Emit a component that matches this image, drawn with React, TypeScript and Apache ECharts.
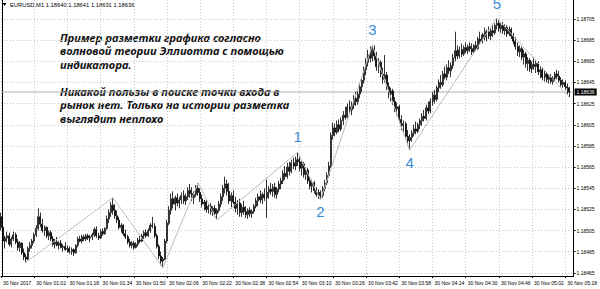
import React, { useEffect, useRef } from "react";
import * as echarts from "echarts";

// EURUSD M1, 30 Nov 2017, one candle per minute starting 00:46
const symbolName = "EURUSD,M1";
const timeLabels = [
  "30 Nov 2017", "30 Nov 01:02", "30 Nov 01:18", "30 Nov 01:34", "30 Nov 01:50", "30 Nov 02:06",
  "30 Nov 02:22", "30 Nov 02:38", "30 Nov 02:54", "30 Nov 03:10", "30 Nov 03:26", "30 Nov 03:42",
  "30 Nov 03:58", "30 Nov 04:14", "30 Nov 04:30", "30 Nov 04:46", "30 Nov 05:02", "30 Nov 05:18",
];
const priceTicks = [
  1.18465, 1.18485, 1.18505, 1.18525, 1.18545, 1.18565, 1.18585,
  1.18605, 1.18625, 1.18645, 1.18665, 1.18685, 1.18705,
];

const opens = [
  1.18518,1.18508,1.18495,1.18498,1.18500,1.18492,1.18497,1.18501,1.18494,1.18489,
  1.18493,1.18484,1.18480,1.18478,1.18488,1.18491,1.18495,1.18501,1.18507,1.18518,
  1.18511,1.18505,1.18508,1.18500,1.18503,1.18497,1.18492,1.18494,1.18491,1.18493,
  1.18489,1.18490,1.18487,1.18488,1.18485,1.18487,1.18484,1.18491,1.18497,1.18495,
  1.18499,1.18497,1.18500,1.18498,1.18499,1.18501,1.18506,1.18500,1.18498,1.18504,
  1.18502,1.18507,1.18516,1.18522,1.18529,1.18524,1.18519,1.18515,1.18508,1.18510,
  1.18502,1.18499,1.18494,1.18491,1.18493,1.18489,1.18492,1.18496,1.18495,1.18500,
  1.18503,1.18500,1.18505,1.18510,1.18509,1.18500,1.18490,1.18481,1.18476,1.18478,
  1.18495,1.18512,1.18524,1.18535,1.18530,1.18536,1.18531,1.18534,1.18538,1.18533,
  1.18537,1.18543,1.18540,1.18536,1.18539,1.18545,1.18541,1.18535,1.18530,1.18532,
  1.18525,1.18528,1.18523,1.18526,1.18521,1.18524,1.18530,1.18537,1.18545,1.18549,
  1.18542,1.18533,1.18538,1.18532,1.18526,1.18531,1.18522,1.18527,1.18523,1.18520,
  1.18524,1.18521,1.18523,1.18528,1.18533,1.18537,1.18534,1.18539,1.18536,1.18541,
  1.18544,1.18542,1.18546,1.18539,1.18544,1.18549,1.18552,1.18559,1.18556,1.18565,
  1.18561,1.18569,1.18566,1.18572,1.18570,1.18564,1.18568,1.18558,1.18562,1.18552,
  1.18547,1.18550,1.18543,1.18539,1.18541,1.18538,1.18545,1.18550,1.18557,1.18566,
  1.18595,1.18602,1.18598,1.18605,1.18601,1.18609,1.18614,1.18612,1.18622,1.18619,
  1.18624,1.18630,1.18627,1.18634,1.18641,1.18647,1.18657,1.18664,1.18671,1.18668,
  1.18676,1.18670,1.18660,1.18664,1.18653,1.18648,1.18652,1.18641,1.18634,1.18637,
  1.18627,1.18620,1.18622,1.18610,1.18604,1.18606,1.18594,1.18590,1.18593,1.18597,
  1.18601,1.18599,1.18605,1.18609,1.18613,1.18611,1.18621,1.18618,1.18627,1.18633,
  1.18629,1.18640,1.18645,1.18643,1.18653,1.18650,1.18659,1.18656,1.18661,1.18668,
  1.18675,1.18670,1.18676,1.18672,1.18678,1.18675,1.18679,1.18677,1.18674,1.18680,
  1.18677,1.18686,1.18684,1.18690,1.18688,1.18693,1.18689,1.18694,1.18692,1.18699,
  1.18701,1.18696,1.18699,1.18694,1.18697,1.18691,1.18695,1.18689,1.18684,1.18679,
  1.18674,1.18677,1.18669,1.18672,1.18663,1.18666,1.18658,1.18662,1.18660,1.18663,
  1.18655,1.18657,1.18650,1.18653,1.18648,1.18650,1.18646,1.18649,1.18653,1.18651,
  1.18647,1.18643,1.18645,1.18641,1.18640,
];

const highs = [
  1.18522,1.18510,1.18500,1.18504,1.18503,1.18499,1.18504,1.18503,1.18497,1.18495,
  1.18494,1.18488,1.18483,1.18490,1.18494,1.18497,1.18503,1.18510,1.18526,1.18522,
  1.18516,1.18510,1.18509,1.18505,1.18505,1.18500,1.18497,1.18499,1.18495,1.18496,
  1.18492,1.18494,1.18491,1.18490,1.18489,1.18488,1.18492,1.18499,1.18500,1.18501,
  1.18501,1.18502,1.18502,1.18501,1.18503,1.18508,1.18509,1.18503,1.18506,1.18507,
  1.18508,1.18519,1.18525,1.18532,1.18536,1.18530,1.18524,1.18518,1.18512,1.18511,
  1.18506,1.18501,1.18497,1.18495,1.18495,1.18494,1.18498,1.18500,1.18502,1.18505,
  1.18506,1.18507,1.18512,1.18518,1.18512,1.18502,1.18492,1.18485,1.18480,1.18497,
  1.18515,1.18528,1.18540,1.18542,1.18538,1.18540,1.18537,1.18541,1.18543,1.18540,
  1.18546,1.18549,1.18546,1.18542,1.18548,1.18550,1.18545,1.18539,1.18534,1.18534,
  1.18530,1.18531,1.18528,1.18529,1.18526,1.18533,1.18540,1.18548,1.18556,1.18553,
  1.18550,1.18541,1.18543,1.18537,1.18534,1.18535,1.18530,1.18533,1.18528,1.18526,
  1.18527,1.18525,1.18530,1.18536,1.18540,1.18543,1.18541,1.18545,1.18553,1.18547,
  1.18550,1.18549,1.18550,1.18546,1.18552,1.18555,1.18562,1.18566,1.18569,1.18570,
  1.18572,1.18574,1.18575,1.18579,1.18576,1.18571,1.18570,1.18565,1.18564,1.18556,
  1.18553,1.18552,1.18546,1.18544,1.18543,1.18547,1.18553,1.18560,1.18570,1.18598,
  1.18607,1.18606,1.18609,1.18610,1.18612,1.18618,1.18622,1.18625,1.18628,1.18627,
  1.18633,1.18636,1.18637,1.18644,1.18650,1.18660,1.18668,1.18676,1.18679,1.18680,
  1.18680,1.18674,1.18668,1.18666,1.18659,1.18671,1.18655,1.18645,1.18640,1.18639,
  1.18631,1.18626,1.18624,1.18614,1.18609,1.18608,1.18600,1.18596,1.18600,1.18605,
  1.18608,1.18607,1.18611,1.18616,1.18619,1.18624,1.18627,1.18630,1.18636,1.18638,
  1.18642,1.18648,1.18652,1.18656,1.18660,1.18662,1.18666,1.18664,1.18672,1.18693,
  1.18680,1.18679,1.18682,1.18680,1.18683,1.18681,1.18683,1.18682,1.18681,1.18684,
  1.18688,1.18693,1.18692,1.18697,1.18695,1.18698,1.18696,1.18699,1.18701,1.18706,
  1.18704,1.18701,1.18702,1.18700,1.18699,1.18698,1.18697,1.18692,1.18688,1.18683,
  1.18680,1.18679,1.18676,1.18674,1.18669,1.18668,1.18665,1.18669,1.18666,1.18665,
  1.18660,1.18659,1.18656,1.18655,1.18652,1.18653,1.18651,1.18655,1.18657,1.18656,
  1.18650,1.18648,1.18647,1.18644,1.18641,
];

const lows = [
  1.18505,1.18493,1.18488,1.18494,1.18490,1.18489,1.18495,1.18492,1.18486,1.18485,
  1.18482,1.18477,1.18475,1.18477,1.18485,1.18488,1.18493,1.18499,1.18505,1.18508,
  1.18503,1.18500,1.18498,1.18496,1.18495,1.18490,1.18488,1.18490,1.18487,1.18488,
  1.18485,1.18486,1.18484,1.18483,1.18482,1.18481,1.18483,1.18489,1.18494,1.18493,
  1.18495,1.18495,1.18496,1.18494,1.18496,1.18499,1.18498,1.18496,1.18497,1.18500,
  1.18501,1.18506,1.18512,1.18518,1.18520,1.18516,1.18512,1.18506,1.18503,1.18500,
  1.18497,1.18492,1.18489,1.18488,1.18487,1.18488,1.18490,1.18493,1.18494,1.18497,
  1.18498,1.18499,1.18503,1.18507,1.18498,1.18488,1.18478,1.18472,1.18470,1.18477,
  1.18493,1.18510,1.18520,1.18526,1.18524,1.18528,1.18526,1.18530,1.18530,1.18529,
  1.18534,1.18536,1.18533,1.18530,1.18537,1.18538,1.18532,1.18527,1.18524,1.18522,
  1.18521,1.18520,1.18519,1.18518,1.18515,1.18522,1.18527,1.18533,1.18540,1.18538,
  1.18530,1.18526,1.18530,1.18522,1.18520,1.18518,1.18518,1.18520,1.18517,1.18516,
  1.18518,1.18517,1.18521,1.18526,1.18528,1.18531,1.18530,1.18533,1.18517,1.18535,
  1.18539,1.18537,1.18536,1.18535,1.18541,1.18544,1.18549,1.18553,1.18554,1.18557,
  1.18559,1.18563,1.18562,1.18566,1.18561,1.18557,1.18555,1.18553,1.18549,1.18544,
  1.18541,1.18540,1.18537,1.18535,1.18534,1.18536,1.18542,1.18548,1.18555,1.18564,
  1.18591,1.18594,1.18596,1.18598,1.18599,1.18605,1.18610,1.18611,1.18615,1.18614,
  1.18620,1.18623,1.18624,1.18630,1.18636,1.18644,1.18652,1.18660,1.18664,1.18665,
  1.18666,1.18656,1.18654,1.18650,1.18644,1.18645,1.18638,1.18630,1.18627,1.18624,
  1.18617,1.18614,1.18607,1.18600,1.18597,1.18591,1.18586,1.18581,1.18589,1.18594,
  1.18596,1.18597,1.18601,1.18604,1.18608,1.18609,1.18615,1.18616,1.18623,1.18625,
  1.18627,1.18636,1.18639,1.18641,1.18648,1.18647,1.18653,1.18650,1.18658,1.18665,
  1.18667,1.18668,1.18669,1.18670,1.18673,1.18672,1.18674,1.18671,1.18672,1.18675,
  1.18676,1.18681,1.18682,1.18685,1.18684,1.18686,1.18685,1.18688,1.18690,1.18695,
  1.18693,1.18692,1.18691,1.18690,1.18688,1.18689,1.18686,1.18681,1.18676,1.18670,
  1.18669,1.18666,1.18662,1.18659,1.18656,1.18655,1.18654,1.18657,1.18654,1.18652,
  1.18649,1.18647,1.18646,1.18645,1.18644,1.18644,1.18643,1.18646,1.18648,1.18645,
  1.18641,1.18640,1.18638,1.18634,1.18631,
];

const closes = [
  1.18508,1.18495,1.18498,1.18500,1.18492,1.18497,1.18501,1.18494,1.18489,1.18493,
  1.18484,1.18480,1.18478,1.18488,1.18491,1.18495,1.18501,1.18507,1.18518,1.18511,
  1.18505,1.18508,1.18500,1.18503,1.18497,1.18492,1.18494,1.18491,1.18493,1.18489,
  1.18490,1.18487,1.18488,1.18485,1.18487,1.18484,1.18491,1.18497,1.18495,1.18499,
  1.18497,1.18500,1.18498,1.18499,1.18501,1.18506,1.18500,1.18498,1.18504,1.18502,
  1.18507,1.18516,1.18522,1.18529,1.18524,1.18519,1.18515,1.18508,1.18510,1.18502,
  1.18499,1.18494,1.18491,1.18493,1.18489,1.18492,1.18496,1.18495,1.18500,1.18503,
  1.18500,1.18505,1.18510,1.18509,1.18500,1.18490,1.18481,1.18476,1.18478,1.18495,
  1.18512,1.18524,1.18535,1.18530,1.18536,1.18531,1.18534,1.18538,1.18533,1.18537,
  1.18543,1.18540,1.18536,1.18539,1.18545,1.18541,1.18535,1.18530,1.18532,1.18525,
  1.18528,1.18523,1.18526,1.18521,1.18524,1.18530,1.18537,1.18545,1.18549,1.18542,
  1.18533,1.18538,1.18532,1.18526,1.18531,1.18522,1.18527,1.18523,1.18520,1.18524,
  1.18521,1.18523,1.18528,1.18533,1.18537,1.18534,1.18539,1.18536,1.18541,1.18544,
  1.18542,1.18546,1.18539,1.18544,1.18549,1.18552,1.18559,1.18556,1.18565,1.18561,
  1.18569,1.18566,1.18572,1.18570,1.18564,1.18568,1.18558,1.18562,1.18552,1.18547,
  1.18550,1.18543,1.18539,1.18541,1.18538,1.18545,1.18550,1.18557,1.18566,1.18595,
  1.18602,1.18598,1.18605,1.18601,1.18609,1.18614,1.18612,1.18622,1.18619,1.18624,
  1.18630,1.18627,1.18634,1.18641,1.18647,1.18657,1.18664,1.18671,1.18668,1.18676,
  1.18670,1.18660,1.18664,1.18653,1.18648,1.18652,1.18641,1.18634,1.18637,1.18627,
  1.18620,1.18622,1.18610,1.18604,1.18606,1.18594,1.18590,1.18593,1.18597,1.18601,
  1.18599,1.18605,1.18609,1.18613,1.18611,1.18621,1.18618,1.18627,1.18633,1.18629,
  1.18640,1.18645,1.18643,1.18653,1.18650,1.18659,1.18656,1.18661,1.18668,1.18675,
  1.18670,1.18676,1.18672,1.18678,1.18675,1.18679,1.18677,1.18674,1.18680,1.18677,
  1.18686,1.18684,1.18690,1.18688,1.18693,1.18689,1.18694,1.18692,1.18699,1.18701,
  1.18696,1.18699,1.18694,1.18697,1.18691,1.18695,1.18689,1.18684,1.18679,1.18674,
  1.18677,1.18669,1.18672,1.18663,1.18666,1.18658,1.18662,1.18660,1.18663,1.18655,
  1.18657,1.18650,1.18653,1.18648,1.18650,1.18646,1.18649,1.18653,1.18651,1.18647,
  1.18643,1.18645,1.18641,1.18640,1.18636,
];

// ZigZag turning points (bar index, price) and the Elliott wave marks
const waveBars = [12, 54, 78, 95, 104, 143, 154, 179, 197, 239, 274];
const wavePrices = [
  1.18475, 1.18536, 1.18470, 1.18550, 1.18515, 1.18579,
  1.18534, 1.18680, 1.18581, 1.18706, 1.18631,
];
const waveTags = ["1", "2", "3", "4", "5"];
const waveTagBars = [143, 154, 179, 197, 239];

const noteLines = [
  "Пример разметки графика согласно",
  "волновой теории Эллиотта с помощью",
  "индикатора.",
  "",
  "Никакой пользы в поиске точки входа в",
  "рынок нет. Только на истории разметка",
  "выглядит неплохо",
];

const FIRST_MINUTE = 46; // 00:46
const SLOT_COUNT = 277;
const Y_MIN = 1.18462;
const Y_MAX = 1.18723;
const AXIS_FONT = "Liberation Sans";

function buildOption() {
  const categories: string[] = [];
  for (let k = 0; k < SLOT_COUNT; k++) {
    const m = FIRST_MINUTE + k;
    const hh = String(Math.floor(m / 60)).padStart(2, "0");
    const mm = String(m % 60).padStart(2, "0");
    categories.push(`${hh}:${mm}`);
  }

  const candles = opens.map((o, i) => [o, closes[i], lows[i], highs[i]]);

  const waveData: (number | null)[] = new Array(SLOT_COUNT).fill(null);
  waveBars.forEach((b, k) => {
    waveData[b] = wavePrices[k];
  });

  const last = closes.length - 1;
  const bid = closes[last];
  const header = [opens[last], highs[last], lows[last], closes[last]]
    .map((v) => v.toFixed(5))
    .join(" ");

  const tagPoints = waveTags.map((tag, k) => {
    const bar = waveTagBars[k];
    const price = wavePrices[waveBars.indexOf(bar)];
    const isPeak = k % 2 === 0;
    // the top mark sits against the upper edge of the window
    const lift = k === waveTags.length - 1 ? -14 : -16;
    return {
      name: tag,
      coord: [bar, price],
      label: { offset: [0, isPeak ? lift : 12] },
    };
  });

  const dotted = { color: "#c6c6c6", type: [1, 2] as number[], width: 1 };

  return {
    animation: false,
    backgroundColor: "#ffffff",
    grid: { left: 0, right: 23, top: 0, bottom: 13, containLabel: false },
    xAxis: {
      type: "category",
      data: categories,
      boundaryGap: false,
      axisLine: { show: true, lineStyle: { color: "#000", width: 1 } },
      axisTick: { show: true, interval: 15, length: 2, lineStyle: { color: "#000" } },
      axisLabel: {
        interval: 15,
        fontSize: 5,
        fontFamily: AXIS_FONT,
        color: "#000",
        align: "left",
        margin: 4,
        padding: [0, 0, 0, 2],
        formatter: (_v: string, idx: number) => timeLabels[Math.round(idx / 16)] ?? "",
      },
      splitLine: { show: true, interval: 15, lineStyle: dotted },
    },
    yAxis: [
      {
        type: "value",
        position: "right",
        min: Y_MIN,
        max: Y_MAX,
        axisLine: { show: true, lineStyle: { color: "#000", width: 1 } },
        axisTick: { show: true, length: 2, customValues: priceTicks, lineStyle: { color: "#000" } },
        axisLabel: {
          customValues: priceTicks,
          fontSize: 5,
          fontFamily: AXIS_FONT,
          color: "#000",
          margin: 3,
          formatter: (v: number) => v.toFixed(5),
        },
        splitLine: { show: true, lineStyle: dotted },
      },
      {
        type: "value",
        position: "left",
        min: Y_MIN,
        max: Y_MAX,
        offset: -1.5,
        axisLine: { show: true, onZero: false, lineStyle: { color: "#000", width: 1 } },
        axisTick: { show: false },
        axisLabel: { show: false },
        splitLine: { show: false },
      },
    ],
    series: [
      {
        // current bid level across the whole window, tagged on the price scale
        type: "line",
        yAxisIndex: 0,
        data: [[0, bid], [SLOT_COUNT - 1, bid]],
        symbol: "none",
        silent: true,
        clip: false,
        z: 1,
        lineStyle: { color: "#b0b0b0", type: "solid", width: 1 },
        endLabel: {
          show: true,
          formatter: () => bid.toFixed(5),
          backgroundColor: "#000",
          color: "#fff",
          fontSize: 5,
          fontFamily: AXIS_FONT,
          padding: [1, 2, 1, 2],
          distance: 1,
        },
      },
      {
        type: "candlestick",
        yAxisIndex: 0,
        data: candles,
        barWidth: 1.5,
        z: 2,
        itemStyle: {
          color: "#ffffff",
          color0: "#000000",
          borderColor: "#000000",
          borderColor0: "#000000",
          borderWidth: 0.8,
        },
      },
      {
        type: "line",
        yAxisIndex: 0,
        data: waveData,
        connectNulls: true,
        symbol: "none",
        silent: true,
        clip: false,
        z: 3,
        lineStyle: { color: "#bdbdbd", width: 1 },
        markPoint: {
          symbol: "circle",
          symbolSize: 1,
          itemStyle: { color: "rgba(0,0,0,0)" },
          label: {
            show: true,
            formatter: "{b}",
            color: "#3a8ad6",
            fontSize: 15,
            fontFamily: AXIS_FONT,
          },
          data: tagPoints,
        },
      },
    ],
    graphic: [
      {
        type: "polygon",
        shape: { points: [[2.5, 3], [6.5, 3], [4.5, 6]] },
        style: { fill: "#000" },
      },
      {
        type: "text",
        x: 10,
        y: 5,
        style: {
          text: `${symbolName} ${header}`,
          fontSize: 5.8,
          fontFamily: AXIS_FONT,
          fill: "#000",
          verticalAlign: "middle",
        },
      },
      {
        type: "text",
        x: 60,
        y: 30.5,
        style: {
          text: noteLines.join("\n"),
          fontFamily: "Noto Sans",
          fontStyle: "italic",
          fontWeight: "bold",
          fontSize: 11.2,
          lineHeight: 13.5,
          fill: "#141414",
          verticalAlign: "top",
        },
      },
    ],
  };
}

export default function App() {
  const ref = useRef<HTMLDivElement>(null);
  useEffect(() => {
    if (!ref.current) return;
    const chart = echarts.init(ref.current, undefined, { renderer: "svg" });
    chart.setOption(buildOption() as any);
    return () => chart.dispose();
  }, []);
  return (
    <div
      ref={ref}
      style={{ position: "fixed", left: 0, top: 0, width: 600, height: 289, background: "#fff" }}
    />
  );
}
